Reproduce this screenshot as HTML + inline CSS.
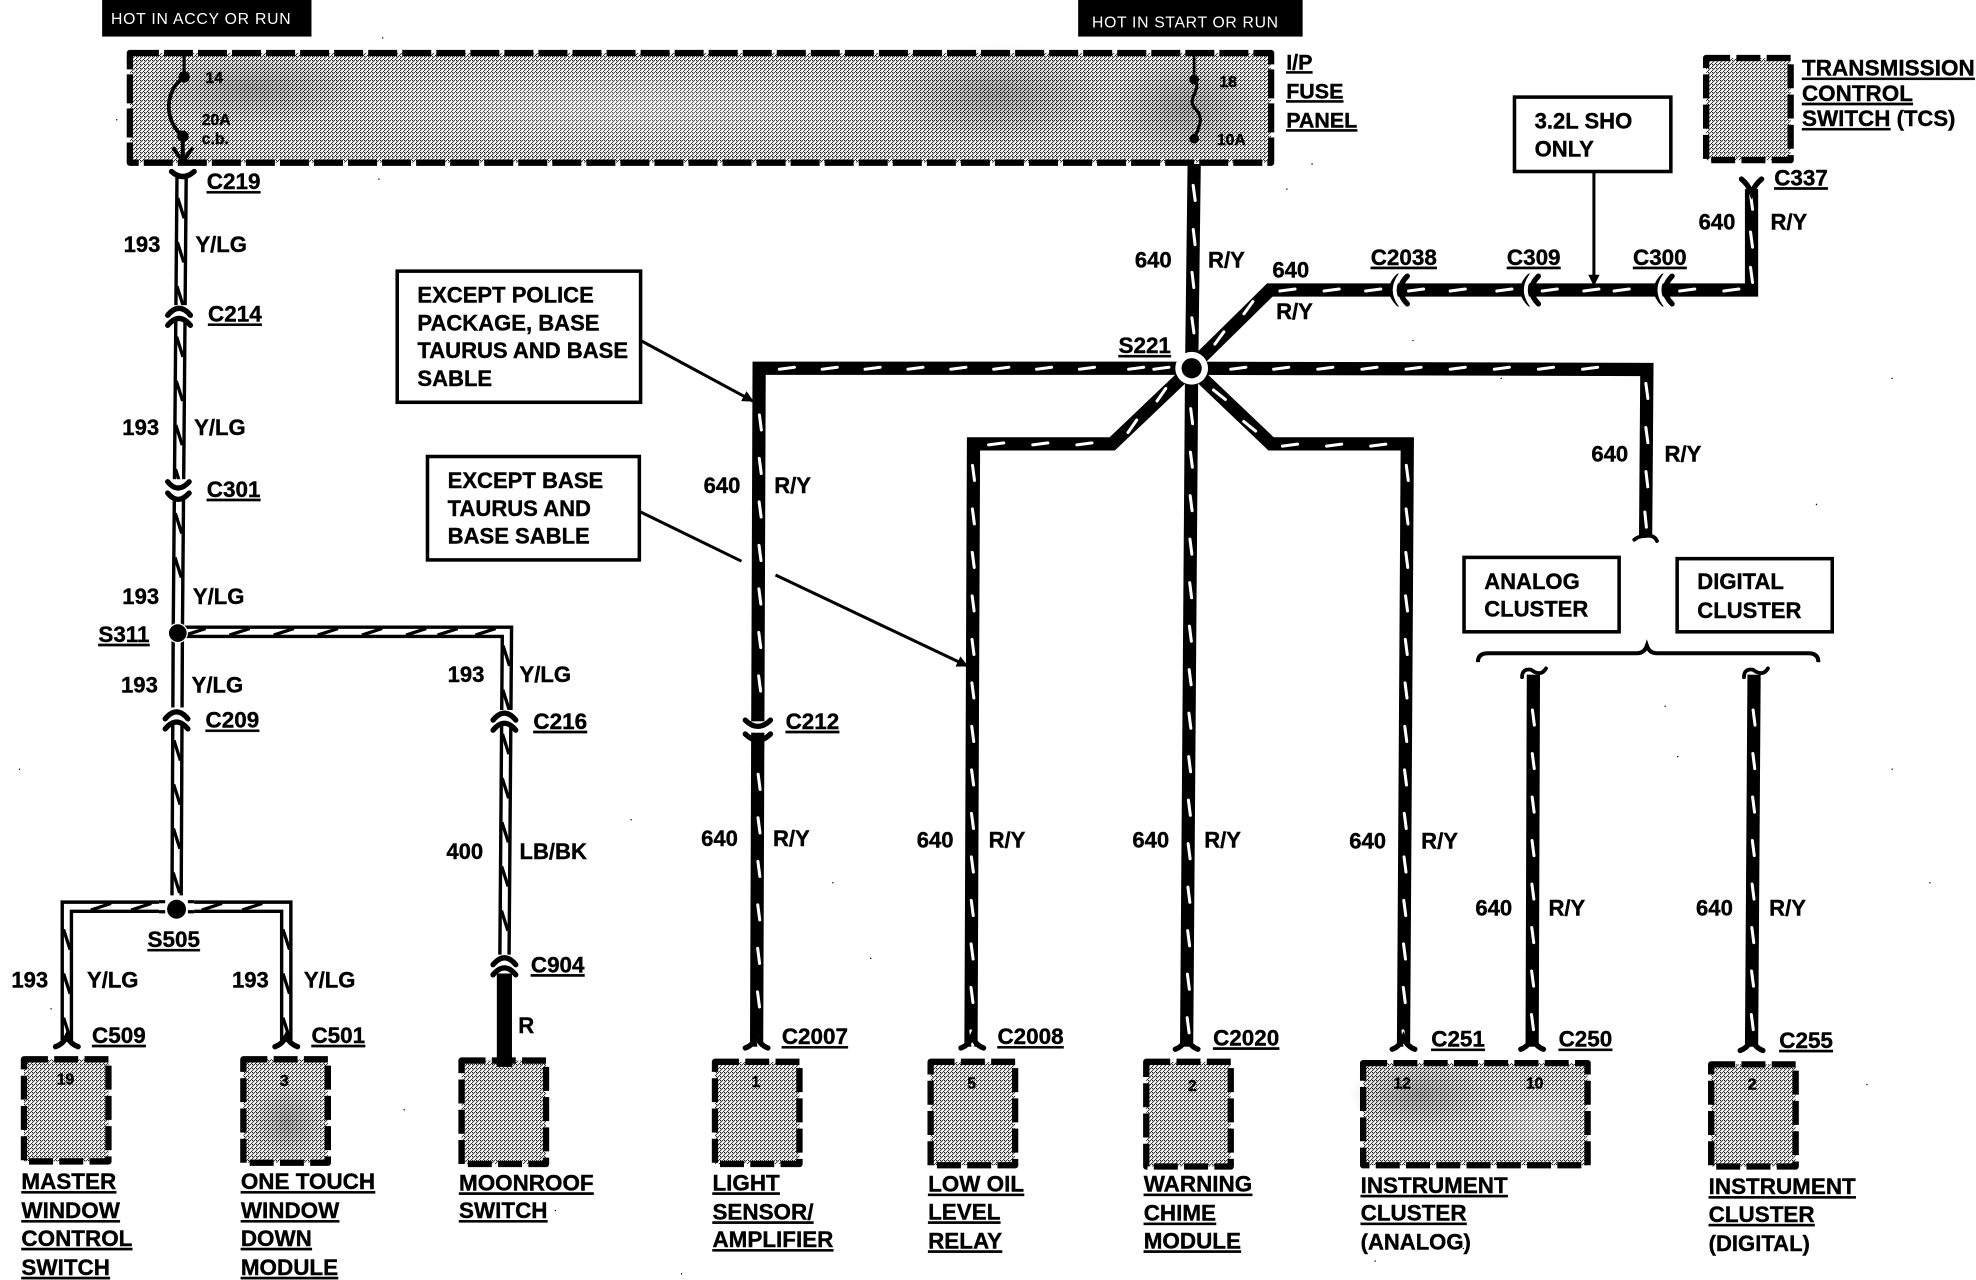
<!DOCTYPE html>
<html>
<head>
<meta charset="utf-8">
<style>
html,body{margin:0;padding:0;background:#fff;width:1976px;height:1280px;overflow:hidden}
svg{display:block}
text{font-family:"Liberation Sans",sans-serif;font-weight:bold;font-size:17.5px;fill:#000;stroke:#000;stroke-width:.3}
.u{text-decoration:underline;font-size:17.8px}
.n{font-size:12.5px}
.h{font-size:12.5px;font-weight:normal;fill:#fff;stroke:none;letter-spacing:.5px}
.rb{fill:none;stroke:#000;stroke-width:10.5;stroke-linejoin:miter}
.rt{fill:none;stroke:none;marker-start:url(#wt);marker-mid:url(#wt);marker-end:url(#wt)}
.yb{fill:none;stroke:#000;stroke-width:10;stroke-linejoin:miter}
.yw{fill:none;stroke:#fff;stroke-width:4.6;stroke-linejoin:miter}
.yt{fill:none;stroke:none;marker-start:url(#bt);marker-mid:url(#bt);marker-end:url(#bt)}
.d{fill:none;stroke:#000;stroke-width:5;stroke-dasharray:19 5;stroke-linecap:butt;stroke-linejoin:round}
.b{fill:#fff;stroke:#000;stroke-width:2.8}
.c{fill:none;stroke:#000;stroke-width:4.2;stroke-linecap:round}
.g{fill:none;stroke:#fff;stroke-width:3;stroke-linecap:butt}
.l{fill:none;stroke:#000;stroke-width:2.4}
</style>
</head>
<body>
<svg xmlns="http://www.w3.org/2000/svg" width="1976" height="1280" viewBox="0 0 1567 1015" preserveAspectRatio="none">
<defs>
<pattern id="dit" patternUnits="userSpaceOnUse" width="4" height="4" patternTransform="scale(.79302)">
<rect width="4" height="4" fill="#fff"/>
<path d="M0,0h1v1h-1zM2,0h1v1h-1zM1,1h1v1h-1zM0,2h1v1h-1zM3,3h1v1h-1z" fill="#000"/>
</pattern>
<radialGradient id="dk"><stop offset="0" stop-color="#000" stop-opacity=".24"/><stop offset="1" stop-color="#000" stop-opacity="0"/></radialGradient>
<radialGradient id="lt"><stop offset="0" stop-color="#fff" stop-opacity=".3"/><stop offset="1" stop-color="#fff" stop-opacity="0"/></radialGradient>
<marker id="ah" viewBox="0 0 10 10" refX="9" refY="5" markerWidth="12" markerHeight="9" orient="auto" markerUnits="userSpaceOnUse"><path d="M0,0L10,5L0,10z" fill="#000"/></marker>
<marker id="wt" viewBox="-9 -4 18 8" refX="0" refY="0" markerWidth="18" markerHeight="8" orient="auto" markerUnits="userSpaceOnUse"><path d="M-6,.8L6,-.8" stroke="#fff" stroke-width="2.4" stroke-linecap="round"/></marker>
<marker id="bt" viewBox="-10 -5 20 10" refX="0" refY="0" markerWidth="20" markerHeight="10" orient="auto" markerUnits="userSpaceOnUse"><path d="M-8,2.6L8,-2.6" stroke="#000" stroke-width="2.6"/></marker>
<path id="r1" d="M947,130L945,292L941,830"/>
<path id="r2" d="M1389,150L1389,230L1007,230L950,286"/>
<path id="r3" d="M945,292L602,292L600,830"/>
<path id="r4" d="M945,292L1306,293L1305,425"/>
<path id="r5" d="M945,292L882,352L772,352L770,830"/>
<path id="r6" d="M945,292L1008,352L1116,352L1113,830"/>
<path id="r7" d="M1216,535L1215,830"/>
<path id="r8" d="M1391,535L1389,830"/>
<path id="y1" d="M144,140L141,502L140,721"/>
<path id="y2" d="M141,501L402,501L400,765"/>
<path id="y3" d="M140,719L53,719L53,825"/>
<path id="y4" d="M140,719L227,719L227,825"/>
</defs>

<!-- header bars -->
<rect x="81" y="0" width="166" height="29" fill="#000"/>
<text class="h" x="88" y="19" textLength="143">HOT IN ACCY OR RUN</text>
<rect x="855" y="0" width="178" height="29" fill="#000"/>
<text class="h" x="866" y="22" textLength="148">HOT IN START OR RUN</text>

<!-- fuse panel -->
<rect x="103" y="42" width="905" height="87" fill="url(#dit)"/>
<ellipse cx="500" cy="85" rx="260" ry="42" fill="url(#lt)"/>
<ellipse cx="790" cy="75" rx="90" ry="40" fill="url(#dk)"/>
<ellipse cx="200" cy="70" rx="90" ry="30" fill="url(#dk)"/>
<ellipse cx="940" cy="85" rx="60" ry="42" fill="url(#dk)"/>
<rect x="103" y="42" width="905" height="87" class="d" style="stroke-dasharray:23 4"/>
<path d="M146,42V61" stroke="#000" stroke-width="2.5"/>
<circle cx="146" cy="61" r="4.5"/>
<path d="M146,61C130,72 130,96 145,108" fill="none" stroke="#000" stroke-width="3"/>
<circle cx="145" cy="108" r="4.5"/>
<path d="M145,108V128M137,117L145,128L153,117" fill="none" stroke="#000" stroke-width="3"/>
<text class="n" x="163" y="66">14</text><text class="n" x="160" y="99">20A</text><text class="n" x="160" y="114">c.b.</text>
<path d="M947,42V62" stroke="#000" stroke-width="2"/>
<circle cx="947" cy="63" r="3.8"/>
<path d="M947,63C954,70 941,78 947,85S954,95 947,110" fill="none" stroke="#000" stroke-width="2.5"/>
<circle cx="947" cy="110" r="3.8"/>
<text class="n" x="967" y="69">18</text><text class="n" x="965" y="115">10A</text>
<text class="u" style="font-size:17px" x="1020" y="55">I/P</text><text class="u" style="font-size:17px" x="1020" y="78">FUSE</text><text class="u" style="font-size:17px" x="1020" y="101">PANEL</text>

<!-- TCS -->
<rect x="1353" y="46" width="67" height="81" fill="url(#dit)"/>
<rect x="1353" y="46" width="67" height="81" class="d"/>
<text class="u" x="1429" y="60" textLength="137">TRANSMISSION</text>
<text class="u" x="1429" y="80">CONTROL</text>
<text x="1429" y="100"><tspan class="u">SWITCH</tspan> (TCS)</text>

<!-- wires: Y/LG -->
<use href="#y1" class="yb"/><use href="#y2" class="yb"/><use href="#y3" class="yb"/><use href="#y4" class="yb"/>
<use href="#y1" class="yw"/><use href="#y2" class="yw"/><use href="#y3" class="yw"/><use href="#y4" class="yw"/>
<path class="yt" d="M143.5,165l-.3,35l-.3,35M142.6,275l-.3,35l-.3,35l-.3,35M141.6,415l-.3,35M140.5,595l-.2,35l-.2,35l-.2,35"/>
<path class="yt" d="M190,501l-35,0M260,501l-35,0M330,501l-35,0M385,501l-30,0"/>
<path class="yt" d="M401.5,520l-.2,35M401,590l-.2,35l-.2,35l-.2,35l-.2,35"/>
<path class="yt" d="M112,719L80,719M53,745l0,35l0,35"/>
<path class="yt" d="M168,719L200,719M227,745l0,35l0,35"/>
<path d="M400,772V842" stroke="#000" stroke-width="12" fill="none"/>

<!-- wires: R/Y -->
<use href="#r1" class="rb"/><use href="#r2" class="rb"/><use href="#r3" class="rb"/><use href="#r4" class="rb"/>
<use href="#r5" class="rb"/><use href="#r6" class="rb"/><use href="#r7" class="rb"/><use href="#r8" class="rb"/>

<!-- ticks -->
<path class="rt" d="M947,153L947,188L946,222L946,258"/>
<path class="rt" d="M945,330l-.2,34.5l-.2,34.5l-.2,34.5l-.2,34.5l-.2,34.5l-.2,34.5l-.2,34.5l-.2,34.5l-.2,34.5l-.2,34.5l-.2,34.5l-.2,34.5l-.2,34.5l-.2,34.5"/>
<path class="rt" d="M1389,160L1389,190L1389,218"/>
<path class="rt" d="M1373,230L1338,230L1286,230L1262,230L1229,230L1193,230L1156,230L1123,230L1089,230L1056,230L1021,230"/>
<path class="rt" d="M990,244L967,268"/>
<path class="rt" d="M921,292L901,292M862,292L828,292L794,292L760,292L726,292L692,292L658,292L624,292"/>
<path class="rt" d="M603,335l-.1,34.5l-.1,34.5l-.1,34.5l-.1,34.5l-.1,34.5l-.1,34.5M602,620l-.1,34.5l-.1,34.5l-.1,34.5l-.1,34.5l-.1,34.5l-.1,34.5"/>
<path class="rt" d="M982,292L1016,292L1051,292L1086,292L1121,292L1156,292L1191,292L1226,292L1261,292M1306,310L1306,345L1306,380L1305,412"/>
<path class="rt" d="M921,313L898,338"/>
<path class="rt" d="M860,352L825,352L790,352"/>
<path class="rt" d="M772,375l-.1,34.5l-.1,34.5l-.1,34.5l-.1,34.5l-.1,34.5l-.1,34.5l-.1,34.5l-.1,34.5l-.1,34.5l-.1,34.5l-.1,34.5l-.1,34.5l-.1,34.5"/>
<path class="rt" d="M967,313L991,338"/>
<path class="rt" d="M1023,353L1058,353L1093,353"/>
<path class="rt" d="M1116,375l-.2,34.5l-.2,34.5l-.2,34.5l-.2,34.5l-.2,34.5l-.2,34.5l-.2,34.5l-.2,34.5l-.2,34.5l-.2,34.5l-.2,34.5l-.2,34.5l-.2,34.5"/>
<path class="rt" d="M1216,569l-.1,34.5l-.1,34.5l-.1,34.5l-.1,34.5l-.1,34.5l-.1,34.5l-.1,34.5"/>
<path class="rt" d="M1391,569l-.2,34.5l-.2,34.5l-.2,34.5l-.2,34.5l-.2,34.5l-.2,34.5l-.2,34.5"/>

<!-- splices -->
<circle cx="945" cy="292" r="13" fill="#fff"/><circle cx="945" cy="292" r="8"/>
<circle cx="141" cy="502" r="8" fill="#fff"/><circle cx="141" cy="502" r="7"/>
<rect x="126" y="710" width="28" height="20" fill="#fff"/>
<circle cx="140" cy="721" r="7.5"/>
<path d="M126,715H131M126,723H131M149,715H154M149,723H154" stroke="#000" stroke-width="2.5"/>

<!-- connector symbols -->
<rect x="130" y="242" width="24" height="12" fill="#fff"/>
<path class="c" d="M133,250Q142,239 151,250M133,258Q142,247 151,258"/>
<rect x="130" y="380" width="24" height="14" fill="#fff"/>
<path class="c" d="M133,382Q141,392 150,382M133,391Q141,401 150,391"/>
<rect x="129" y="561" width="24" height="12" fill="#fff"/>
<path class="c" d="M131,570Q140,559 149,570M131,578Q140,567 149,578"/>
<rect x="389" y="563" width="24" height="12" fill="#fff"/>
<path class="c" d="M391,571Q400,560 409,571M391,579Q400,568 409,579"/>
<rect x="389" y="757" width="24" height="12" fill="#fff"/>
<path class="c" d="M391,765Q400,754 409,765M391,773Q400,762 409,773"/>
<rect x="589" y="572" width="24" height="9" fill="#fff"/>
<path class="c" d="M591,571Q601,581 611,571M591,582Q601,592 611,582"/>
<path d="M601,584V594" stroke="#000" stroke-width="10"/>

<path class="c" d="M1109,219Q1098,230 1109,241"/><path class="g" d="M1112,216Q1100,230 1112,244"/><path class="c" d="M1116,219Q1105,230 1116,241"/>
<path class="c" d="M1213,219Q1202,230 1213,241"/><path class="g" d="M1216,216Q1204,230 1216,244"/><path class="c" d="M1220,219Q1209,230 1220,241"/>
<path class="c" d="M1319,219Q1308,230 1319,241"/><path class="g" d="M1322,216Q1310,230 1322,244"/><path class="c" d="M1326,219Q1315,230 1326,241"/>

<!-- wire end flares -->
<path class="c" d="M136,136Q145,144 154,136"/>
<path class="c" d="M1381,142Q1386,146 1389,153Q1392,146 1397,142"/>
<path class="c" d="M44,830Q50,828 53,822Q56,828 62,830"/>
<path class="c" d="M218,830Q224,828 227,822Q230,828 236,830"/>
<path class="c" d="M591,831Q597,829 600,822Q603,829 609,831"/>
<path class="c" d="M762,831Q768,829 771,822Q774,829 780,831"/>
<path class="c" d="M932,832Q938,830 941,823Q944,830 950,832"/>
<path class="c" d="M1104,832Q1110,830 1113,823Q1116,830 1122,832"/>
<path class="c" d="M1206,832Q1212,830 1215,823Q1218,830 1224,832"/>
<path class="c" d="M1380,833Q1386,831 1389,824Q1392,831 1398,833"/>
<path class="c" style="stroke-width:3" d="M1296,428Q1299,425 1305,425Q1312,424 1314,429"/>
<path class="c" style="stroke-width:3" d="M1207,537Q1207,530 1214,531Q1222,537 1226,530"/>
<path class="c" style="stroke-width:3" d="M1383,537Q1383,530 1390,531Q1398,537 1402,530"/>

<!-- callouts -->
<rect x="315" y="215" width="193" height="104" class="b"/>
<text x="331" y="240">EXCEPT POLICE</text><text x="331" y="262">PACKAGE, BASE</text><text x="331" y="284">TAURUS AND BASE</text><text x="331" y="306">SABLE</text>
<path d="M508,270L597,318" class="l" marker-end="url(#ah)"/>
<rect x="339" y="362" width="168" height="82" class="b"/>
<text x="355" y="387">EXCEPT BASE</text><text x="355" y="409">TAURUS AND</text><text x="355" y="431">BASE SABLE</text>
<path d="M508,406L588,445" class="l"/>
<path d="M615,456L767,528" class="l" marker-end="url(#ah)"/>
<rect x="1201" y="77" width="124" height="59" class="b"/>
<text x="1217" y="102">3.2L SHO</text><text x="1217" y="124">ONLY</text>
<path d="M1264,136V226" class="l" marker-end="url(#ah)"/>
<rect x="1161" y="442" width="123" height="59" class="b"/>
<text x="1177" y="467">ANALOG</text><text x="1177" y="489">CLUSTER</text>
<rect x="1330" y="443" width="123" height="58" class="b"/>
<text x="1346" y="467">DIGITAL</text><text x="1346" y="490">CLUSTER</text>
<path d="M1172,525Q1172,518 1180,518H1298Q1304,518 1306,512Q1308,518 1314,518H1434Q1442,518 1442,525" fill="none" stroke="#000" stroke-width="3.2"/>

<!-- wire labels -->
<text x="98" y="200">193</text><text x="155" y="200">Y/LG</text>
<text x="97" y="345">193</text><text x="154" y="345">Y/LG</text>
<text x="97" y="479">193</text><text x="153" y="479">Y/LG</text>
<text x="96" y="549">193</text><text x="152" y="549">Y/LG</text>
<text x="355" y="541">193</text><text x="412" y="541">Y/LG</text>
<text x="354" y="681">400</text><text x="412" y="681">LB/BK</text>
<text x="411" y="819">R</text>
<text x="9" y="783">193</text><text x="69" y="783">Y/LG</text>
<text x="184" y="783">193</text><text x="241" y="783">Y/LG</text>
<text x="900" y="212">640</text><text x="958" y="212">R/Y</text>
<text x="1009" y="220">640</text><text x="1012" y="253">R/Y</text>
<text x="1347" y="182">640</text><text x="1404" y="182">R/Y</text>
<text x="1262" y="366">640</text><text x="1320" y="366">R/Y</text>
<text x="558" y="391">640</text><text x="614" y="391">R/Y</text>
<text x="556" y="671">640</text><text x="613" y="671">R/Y</text>
<text x="727" y="672">640</text><text x="784" y="672">R/Y</text>
<text x="898" y="672">640</text><text x="955" y="672">R/Y</text>
<text x="1070" y="673">640</text><text x="1127" y="673">R/Y</text>
<text x="1170" y="726">640</text><text x="1228" y="726">R/Y</text>
<text x="1345" y="726">640</text><text x="1403" y="726">R/Y</text>

<!-- connector labels -->
<text class="u" x="164" y="150">C219</text>
<text class="u" x="165" y="255">C214</text>
<text class="u" x="164" y="394">C301</text>
<text class="u" x="78" y="509">S311</text>
<text class="u" x="163" y="577">C209</text>
<text class="u" x="423" y="578">C216</text>
<text class="u" x="623" y="578">C212</text>
<text class="u" x="421" y="771">C904</text>
<text class="u" x="117" y="751">S505</text>
<text class="u" x="887" y="280">S221</text>
<text class="u" x="1087" y="210">C2038</text>
<text class="u" x="1195" y="210">C309</text>
<text class="u" x="1295" y="210">C300</text>
<text class="u" x="1407" y="147">C337</text>
<text class="u" x="73" y="827">C509</text>
<text class="u" x="247" y="827">C501</text>
<text class="u" x="620" y="828">C2007</text>
<text class="u" x="791" y="828">C2008</text>
<text class="u" x="962" y="829">C2020</text>
<text class="u" x="1135" y="830">C251</text>
<text class="u" x="1236" y="830">C250</text>
<text class="u" x="1411" y="831">C255</text>

<!-- bottom modules -->
<rect x="19" y="840" width="67" height="81" fill="url(#dit)"/><rect x="19" y="840" width="67" height="81" class="d"/>
<rect x="193" y="840" width="67" height="82" fill="url(#dit)"/><ellipse cx="228" cy="890" rx="30" ry="30" fill="url(#dk)"/><rect x="193" y="840" width="67" height="82" class="d"/>
<rect x="366" y="841" width="67" height="82" fill="url(#dit)"/><rect x="366" y="841" width="67" height="82" class="d"/>
<rect x="567" y="842" width="67" height="81" fill="url(#dit)"/><rect x="567" y="842" width="67" height="81" class="d"/>
<rect x="738" y="842" width="67" height="82" fill="url(#dit)"/><rect x="738" y="842" width="67" height="82" class="d"/>
<rect x="909" y="842" width="67" height="83" fill="url(#dit)"/><rect x="909" y="842" width="67" height="83" class="d"/>
<rect x="1081" y="843" width="178" height="81" fill="url(#dit)"/>
<ellipse cx="1125" cy="868" rx="55" ry="28" fill="url(#dk)"/><ellipse cx="1220" cy="890" rx="50" ry="34" fill="url(#lt)"/>
<rect x="1081" y="843" width="178" height="81" class="d"/>
<rect x="1357" y="844" width="67" height="81" fill="url(#dit)"/><rect x="1357" y="844" width="67" height="81" class="d"/>
<path d="M400,838V846" stroke="#000" stroke-width="12"/>

<text class="n" x="45" y="860">19</text><text class="n" x="222" y="861">3</text><text class="n" x="596" y="862">1</text>
<text class="n" x="767" y="863">5</text><text class="n" x="942" y="865">2</text><text class="n" x="1105" y="863">12</text>
<text class="n" x="1210" y="863">10</text><text class="n" x="1386" y="864">2</text>

<text class="u" x="17" y="943">MASTER</text><text class="u" x="17" y="966">WINDOW</text><text class="u" x="17" y="988">CONTROL</text><text class="u" x="17" y="1011">SWITCH</text>
<text class="u" x="191" y="943">ONE TOUCH</text><text class="u" x="191" y="966">WINDOW</text><text class="u" x="191" y="988">DOWN</text><text class="u" x="191" y="1011">MODULE</text>
<text class="u" x="364" y="944">MOONROOF</text><text class="u" x="364" y="966">SWITCH</text>
<text class="u" x="565" y="944">LIGHT</text><text class="u" x="565" y="967">SENSOR/</text><text class="u" x="565" y="989">AMPLIFIER</text>
<text class="u" x="736" y="945">LOW OIL</text><text class="u" x="736" y="967">LEVEL</text><text class="u" x="736" y="990">RELAY</text>
<text class="u" x="907" y="945">WARNING</text><text class="u" x="907" y="968">CHIME</text><text class="u" x="907" y="990">MODULE</text>
<text class="u" x="1079" y="946">INSTRUMENT</text><text class="u" x="1079" y="968">CLUSTER</text><text x="1079" y="991">(ANALOG)</text>
<text class="u" x="1355" y="947">INSTRUMENT</text><text class="u" x="1355" y="969">CLUSTER</text><text x="1355" y="992">(DIGITAL)</text>

<!-- speckle -->
<path d="M92,95h1M303,30h1M300,142h1M1020,150h1M1440,400h1M1500,300h1M1320,560h1M1330,600h1M1500,610h1M1530,700h1M1360,900h1M1090,1000h1M1160,990h1M1480,860h1M660,700h1M690,760h1M500,650h1M320,880h1M440,960h1M540,1010h1M15,610h1M40,800h1M1040,130h1M1190,300h1M1120,270h1" stroke="#000" stroke-width="1" fill="none"/>
</svg>
</body>
</html>
